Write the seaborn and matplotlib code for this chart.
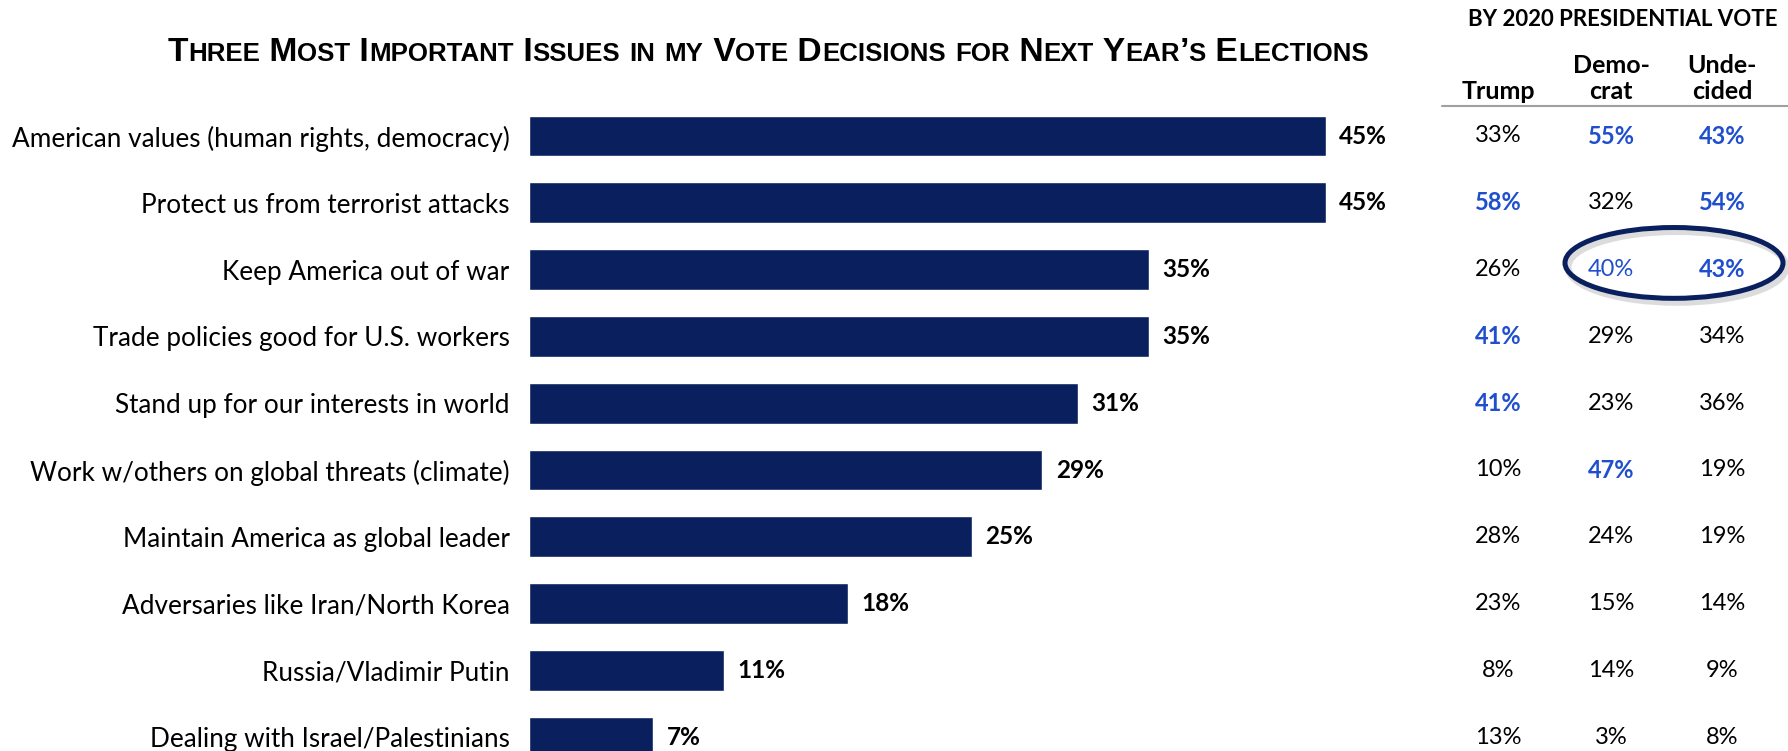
import matplotlib
matplotlib.use("Agg")
import matplotlib.pyplot as plt
import matplotlib.transforms as mtransforms
from matplotlib.patches import Ellipse
import seaborn as sns

sns.set_style("white")
plt.rcParams["font.family"] = ["Lato", "DejaVu Sans"]
plt.rcParams["text.color"] = "black"
plt.rcParams["ytick.color"] = "black"

# data
issues = [
    "American values (human rights, democracy)",
    "Protect us from terrorist attacks",
    "Keep America out of war",
    "Trade policies good for U.S. workers",
    "Stand up for our interests in world",
    "Work w/others on global threats (climate)",
    "Maintain America as global leader",
    "Adversaries like Iran/North Korea",
    "Russia/Vladimir Putin",
    "Dealing with Israel/Palestinians",
]
overall = [45, 45, 35, 35, 31, 29, 25, 18, 11, 7]

trump = [33, 58, 26, 41, 41, 10, 28, 23, 8, 13]
democrat = [55, 32, 40, 29, 23, 47, 24, 15, 14, 3]
undecided = [43, 54, 43, 34, 36, 19, 19, 14, 9, 8]

# highlight flags: 0 = plain, 1 = blue, 2 = blue bold
trump_hl = [0, 2, 0, 2, 2, 0, 0, 0, 0, 0]
democrat_hl = [2, 0, 1, 0, 0, 2, 0, 0, 0, 0]
undecided_hl = [2, 2, 2, 0, 0, 0, 0, 0, 0, 0]

col_heads = ["Trump", "Demo-\ncrat", "Unde-\ncided"]
title = "Three Most Important Issues in my Vote Decisions for Next Year\u2019s Elections"
table_title = "BY 2020 PRESIDENTIAL VOTE"

navy = "#0A205E"
blue = "#1F4FCC"

W, H = 1788, 751
fig = plt.figure(figsize=(W / 100, H / 100), dpi=100)

# bar axes placed in pixels
x0, px_per_pct = 529, 17.7
row_h, first_c = 66.8, 136
ax_w = 50 * px_per_pct
ax_top = first_c - row_h / 2
ax_h = row_h * len(issues)
ax = fig.add_axes([x0 / W, (H - ax_top - ax_h) / H, ax_w / W, ax_h / H])

sns.barplot(x=overall, y=issues, color=navy, saturation=1, width=0.61,
            orient="h", ax=ax)
ax.set_xlim(0, 50)
ax.set_ylim(len(issues) - 0.5, -0.5)
ax.bar_label(ax.containers[0], labels=[f"{v}%" for v in overall],
             padding=10, fontsize=17.5, fontweight="bold", color="black")
ax.set_xlabel("")
ax.set_ylabel("")
ax.set_xticks([])
ax.tick_params(axis="y", length=0, pad=14, labelsize=18.8, labelcolor="black")
sns.despine(ax=ax, left=True, bottom=True)

# table to the right
tr = mtransforms.blended_transform_factory(fig.transFigure, ax.transData)
col_x = [1498 / W, 1611 / W, 1722 / W]
for cx, vals, hl in zip(col_x, [trump, democrat, undecided],
                        [trump_hl, democrat_hl, undecided_hl]):
    for i, (v, h) in enumerate(zip(vals, hl)):
        ax.text(cx, i, f"{v}%", transform=tr, ha="center", va="center",
                fontsize=17, color=blue if h else "black",
                fontweight="bold" if h == 2 else "normal")

for cx, head in zip(col_x, col_heads):
    fig.text(cx, 1 - 99 / H, head, ha="center", va="baseline",
             fontsize=18, fontweight="bold", linespacing=1.15)

fig.text(1623 / W, 1 - 19 / H, table_title, ha="center", va="center",
         fontsize=16, fontweight="bold")
fig.add_artist(plt.Line2D([1442 / W, 1.0], [1 - 106 / H, 1 - 106 / H],
                          color="#A0A0A0", lw=1.5))

# highlight ring around row 3 (Democrat/Undecided)
ell_kw = dict(width=218 / W, height=1.06, fill=False, transform=tr)
fig.add_artist(Ellipse((1677 / W, 1.96), ec="#BBBBBB", lw=5, alpha=0.5, **ell_kw))
fig.add_artist(Ellipse((1674 / W, 1.9), ec=navy, lw=3.6, **ell_kw))


# small-caps title
def small_caps(text, xc, yb, big, small):
    runs = []
    for ch in text:
        kind = ch.islower()
        if runs and runs[-1][0] == kind:
            runs[-1][1] += ch
        else:
            runs.append([kind, ch])
    rend = fig.canvas.get_renderer()
    arts = []
    for low, s in runs:
        t = fig.text(0, yb, s.upper(), fontsize=small if low else big,
                     fontweight="bold", va="baseline", ha="left",
                     color="black",
                     family=["Liberation Sans", "DejaVu Sans"])
        arts.append(t)
    widths = [a.get_window_extent(rend).width for a in arts]
    x = xc * W - sum(widths) / 2
    for a, w in zip(arts, widths):
        a.set_x(x / W)
        x += w


small_caps(title, 768 / W, 1 - 61 / H, 24.2, 18.6)

fig.savefig("out.png", dpi=100)
